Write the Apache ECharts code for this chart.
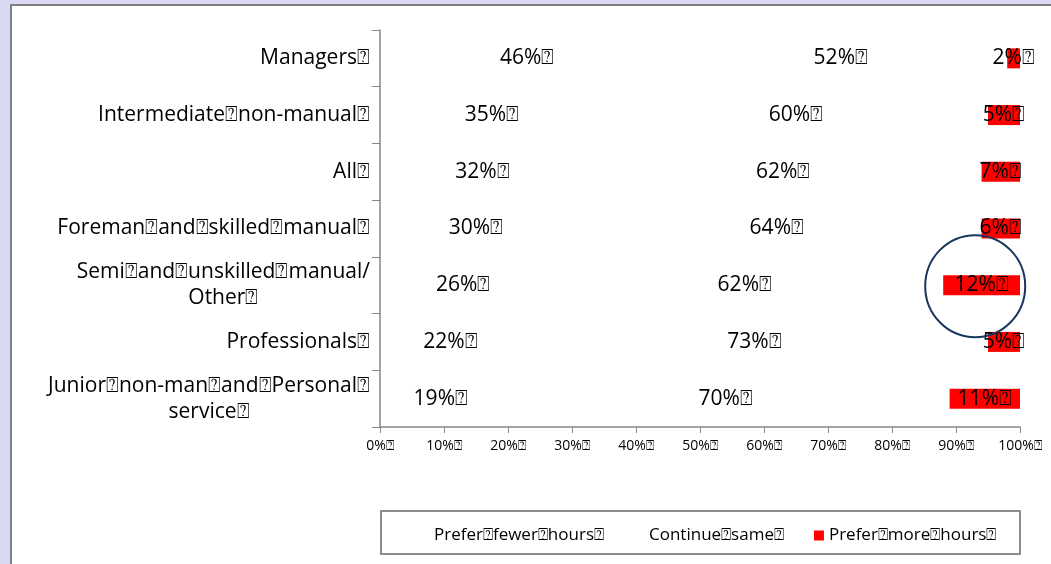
<!DOCTYPE html>
<html>
<head>
<meta charset="utf-8">
<script src="https://cdn.jsdelivr.net/npm/echarts@6/dist/echarts.min.js"></script>
<style>
html,body{margin:0;padding:0;background:#d9d9f4;}
#c{width:1051px;height:564px;}
</style>
</head>
<body>
<div id="c"></div>
<script>
const B = '\u2370';
const categories = [
  'Managers' + B,
  'Intermediate' + B + 'non-manual' + B,
  'All' + B,
  'Foreman' + B + 'and' + B + 'skilled' + B + 'manual' + B,
  'Semi' + B + 'and' + B + 'unskilled' + B + 'manual/\nOther' + B,
  'Professionals' + B,
  'Junior' + B + 'non-man' + B + 'and' + B + 'Personal' + B + '\nservice' + B
];
const seriesNames = ['Prefer' + B + 'fewer' + B + 'hours' + B, 'Continue' + B + 'same' + B, 'Prefer' + B + 'more' + B + 'hours' + B];
const preferFewer = [46, 35, 32, 30, 26, 22, 19];
const continueSame = [52, 60, 62, 64, 62, 73, 70];
const preferMore = [2, 5, 7, 6, 12, 5, 11];
const xTicks = [0, 10, 20, 30, 40, 50, 60, 70, 80, 90, 100];
const highlightCategory = 4;
const highlightValue = 93;

const FONT = '"Open Sans", "Noto Sans", sans-serif';
const chart = echarts.init(document.getElementById('c'));

function mkSeries(name, data, color) {
  return {
    name: name, type: 'bar', stack: 'total', data: data, barWidth: 20,
    itemStyle: { color: color },
    label: { show: true, position: 'inside', formatter: '{c}%' + B, color: '#000', fontSize: 21, fontFamily: FONT },
    emphasis: { disabled: true }
  };
}

const frame = [
  { type: 'rect', z: -10, shape: { x: 11, y: 5, width: 1100, height: 600 }, style: { fill: '#fff', stroke: '#7f7f7f', lineWidth: 2 } },
  { type: 'rect', z: -5, shape: { x: 381, y: 511, width: 639, height: 43 }, style: { fill: '#fff', stroke: '#8c8c8c', lineWidth: 2 } }
];

chart.setOption({
  animation: false,
  backgroundColor: 'transparent',
  graphic: frame,
  grid: { left: 380, right: 31, top: 30, bottom: 137, containLabel: false },
  legend: {
    left: 414, top: 522, itemGap: 30, itemWidth: 10, itemHeight: 10, icon: 'rect',
    textStyle: { fontSize: 17, fontFamily: FONT, color: '#000' },
    data: seriesNames
  },
  xAxis: {
    type: 'value', min: xTicks[0], max: xTicks[xTicks.length - 1], interval: 10,
    axisLine: { show: true, lineStyle: { color: '#868686', width: 1.5 } },
    axisTick: { show: true, length: 6, lineStyle: { color: '#868686' } },
    splitLine: { show: false },
    axisLabel: { formatter: '{value}%' + B, fontSize: 14, fontFamily: FONT, color: '#000', margin: 12 }
  },
  yAxis: {
    type: 'category', inverse: true, data: categories, z: 10,
    axisLine: { show: true, lineStyle: { color: '#868686', width: 1.5 } },
    axisTick: { show: true, length: 8, interval: 0, lineStyle: { color: '#868686' } },
    axisLabel: {
      interval: 0, margin: 10, color: '#000', fontSize: 21, fontFamily: FONT,
      formatter: function (v) { return v.split('\n').map(function (l) { return '{c|' + l + '}'; }).join('\n'); },
      rich: { c: { align: 'center', fontSize: 21, fontFamily: FONT, color: '#000', lineHeight: 26 } }
    }
  },
  series: [
    mkSeries(seriesNames[0], preferFewer, 'rgba(255,255,255,0)'),
    mkSeries(seriesNames[1], continueSame, 'rgba(255,255,255,0)'),
    mkSeries(seriesNames[2], preferMore, '#ff0000')
  ]
});

const ctr = chart.convertToPixel({ gridIndex: 0 }, [highlightValue, highlightCategory]);
chart.setOption({
  graphic: frame.concat([
    { type: 'ellipse', z: 100, shape: { cx: ctr[0], cy: ctr[1] + 1, rx: 50, ry: 51 }, style: { fill: 'none', stroke: '#17375e', lineWidth: 2 } }
  ])
});
</script>
</body>
</html>
